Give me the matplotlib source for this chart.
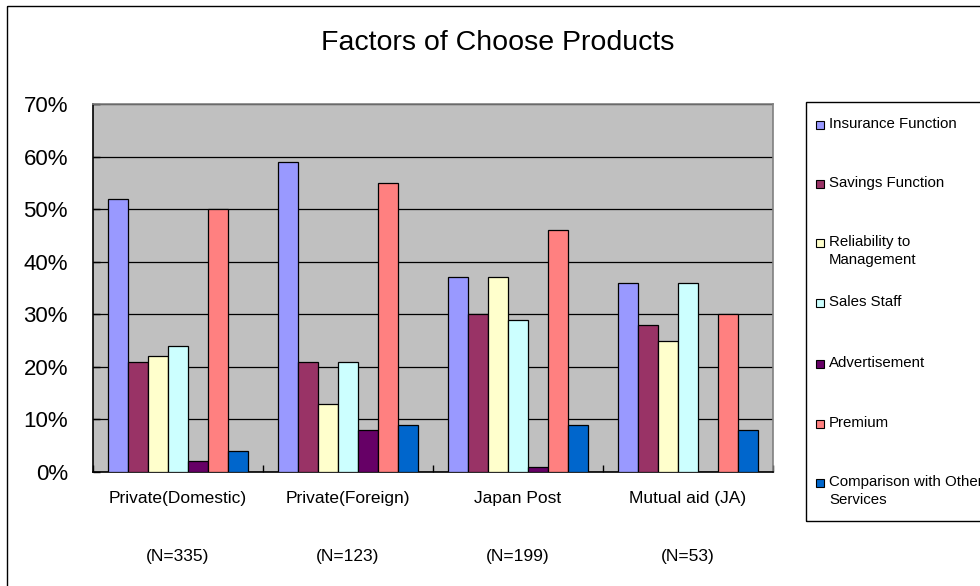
import matplotlib
matplotlib.use("Agg")
import matplotlib.pyplot as plt
from matplotlib.patches import Rectangle
import numpy as np

plt.rcParams['font.family'] = ['Liberation Sans', 'DejaVu Sans']

categories = ["Private(Domestic)", "Private(Foreign)", "Japan Post", "Mutual aid (JA)"]
sample_sizes = ["(N=335)", "(N=123)", "(N=199)", "(N=53)"]
series_names = ["Insurance Function", "Savings Function", "Reliability to\nManagement",
                "Sales Staff", "Advertisement", "Premium", "Comparison with Other\nServices"]
insurance = [52, 59, 37, 36]
savings = [21, 21, 30, 28]
reliability = [22, 13, 37, 25]
sales_staff = [24, 21, 29, 36]
advertisement = [2, 8, 1, 0]
premium = [50, 55, 46, 30]
comparison = [4, 9, 9, 8]
series_values = [insurance, savings, reliability, sales_staff, advertisement, premium, comparison]
colors = ["#9999FF", "#993366", "#FFFFCC", "#CCFFFF", "#660066", "#FF8080", "#0066CC"]
yticks = [0, 10, 20, 30, 40, 50, 60, 70]

W, H = 980, 586
fig = plt.figure(figsize=(W / 100, H / 100), dpi=100)
fig.patch.set_facecolor("white")

# outer chart frame (runs off the right and bottom edges)
fig.patches.append(Rectangle((7 / W, 1 - 6 / H), 1.0, -1.0, transform=fig.transFigure,
                             fill=False, edgecolor="black", linewidth=1.0))

ax = fig.add_axes([93 / W, 1 - 472 / H, (773 - 93) / W, (472 - 104) / H])
ax.set_facecolor("#C0C0C0")

n = len(series_values)
bar_w = 20 / 170
x = np.arange(len(categories))
for i, (vals, c) in enumerate(zip(series_values, colors)):
    offs = (i - (n - 1) / 2) * bar_w
    ax.bar(x + offs, vals, width=bar_w, color=c, edgecolor="black", linewidth=0.9, zorder=3)

ax.set_xlim(-0.5, len(categories) - 0.5)
ax.set_ylim(0, 70)
ax.set_yticks(yticks)
ax.set_yticklabels([f"{t}%" for t in yticks], fontsize=16)
ax.yaxis.grid(True, color="black", linewidth=0.9, zorder=1)
ax.set_axisbelow(True)

ax.set_xticks(np.arange(len(categories) + 1) - 0.5, minor=False)
ax.set_xticklabels([])
ax.tick_params(axis="x", direction="in", length=5, width=1, color="black")
ax.tick_params(axis="y", direction="in", length=5, width=1, color="black", pad=18)

for sp in ["top", "right"]:
    ax.spines[sp].set_color("#808080")
    ax.spines[sp].set_linewidth(1.2)
for sp in ["left", "bottom"]:
    ax.spines[sp].set_color("black")
    ax.spines[sp].set_linewidth(1.2)

for xi, cat, ns in zip(x, categories, sample_sizes):
    ax.annotate(cat, xy=(xi, 0), xycoords=("data", "axes fraction"),
                xytext=(0, -27), textcoords="offset pixels",
                ha="center", va="center", fontsize=12.5)
    ax.annotate(ns, xy=(xi, 0), xycoords=("data", "axes fraction"),
                xytext=(0, -85), textcoords="offset pixels",
                ha="center", va="center", fontsize=12.5)

fig.text(498 / W, 1 - 43 / H, "Factors of Choose Products", ha="center", va="center",
         fontsize=20.5)

# legend box, drawn entry by entry
fig.patches.append(Rectangle((806 / W, 1 - 521 / H), 1.0, (521 - 102) / H,
                             transform=fig.transFigure, fill=False,
                             edgecolor="black", linewidth=1.0))
entry_y = [125, 184, 243, 303, 364, 424, 483]
for name, c, yy in zip(series_names, colors, entry_y):
    fig.patches.append(Rectangle((816 / W, 1 - (yy + 4) / H), 8 / W, 8 / H,
                                 transform=fig.transFigure, facecolor=c,
                                 edgecolor="black", linewidth=0.8))
    fig.text(829 / W, 1 - (yy - 8) / H, name, ha="left", va="top",
             fontsize=10.8, linespacing=1.4)

fig.savefig("out.png", dpi=100)
